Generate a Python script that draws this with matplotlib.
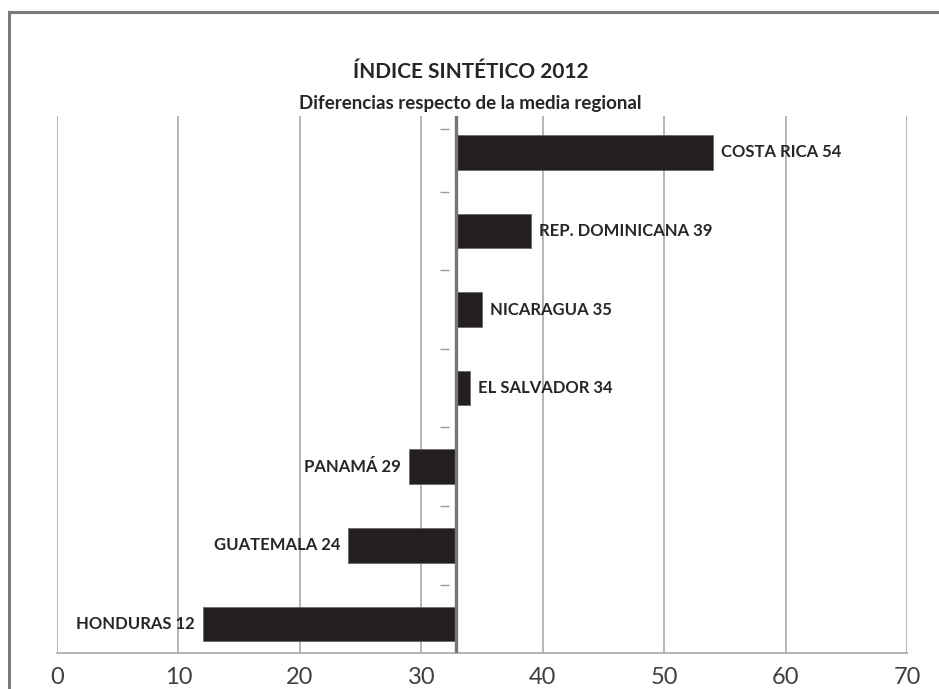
import numpy as np
import matplotlib.pyplot as plt
from matplotlib.lines import Line2D

# Índice sintético 2012, diferencias respecto de la media regional
paises = ["COSTA RICA", "REP. DOMINICANA", "NICARAGUA", "EL SALVADOR",
          "PANAMÁ", "GUATEMALA", "HONDURAS"]
valores = [54, 39, 35, 34, 29, 24, 12]
media = 32.85
ticks_x = [0, 10, 20, 30, 40, 50, 60, 70]

plt.rcParams['font.family'] = ['Lato', 'DejaVu Sans']

W, H = 939, 689
fig = plt.figure(figsize=(W / 100, H / 100), dpi=100)
ax = fig.add_axes([57 / W, (H - 653) / H, (907 - 57) / W, (653 - 116) / H])

y = np.arange(len(paises))
v = np.array(valores, dtype=float)
lefts = np.minimum(v, media)
widths = np.abs(v - media)
ax.barh(y, widths, left=lefts, height=0.44, color="#231f20",
        edgecolor="#6a6a6a", linewidth=0.6, zorder=2)

# linea de la media regional y marcas entre categorias
ax.axvline(media, color="#767676", lw=2.4, zorder=3)
y_marcas = [-0.3] + [i + 0.5 for i in range(len(paises) - 1)]
ax.hlines(y_marcas, 31.55, 32.3, color="#9a9a9a", lw=1.0, zorder=3)

for yi, nombre, val in zip(y, paises, valores):
    txt = "{} {}".format(nombre, val)
    if val >= media:
        ax.annotate(txt, (val, yi), xytext=(6, 0), textcoords="offset points",
                    ha="left", va="center", fontsize=12, fontweight="bold",
                    color="#262626")
    else:
        ax.annotate(txt, (val, yi), xytext=(-6, 0), textcoords="offset points",
                    ha="right", va="center", fontsize=12, fontweight="bold",
                    color="#262626")

ax.set_xlim(0, 70)
ax.set_ylim(6.37, -0.464)
ax.set_xticks(ticks_x)
ax.set_yticks([])
ax.xaxis.grid(True, color="#a8a8a8", lw=1.2)
ax.set_axisbelow(True)
for s in ["top", "left", "right"]:
    ax.spines[s].set_visible(False)
ax.spines["bottom"].set_color("#a8a8a8")
ax.spines["bottom"].set_linewidth(1.2)
ax.tick_params(axis="x", length=0, pad=10, labelsize=17, labelcolor="#404040")

fig.text(471 / W, 1 - 72 / H, "ÍNDICE SINTÉTICO 2012", ha="center", va="center",
         fontsize=15, fontweight="bold", color="#262626")
fig.text(470 / W, 1 - 103 / H, "Diferencias respecto de la media regional",
         ha="center", va="center", fontsize=13.5, fontweight="bold", color="#262626")

# marco del grafico (izquierda y arriba)
fig.add_artist(Line2D([9 / W, 9 / W], [0, 1 - 12 / H], transform=fig.transFigure,
                      color="#7a7a7a", lw=2.2))
fig.add_artist(Line2D([9 / W, 1], [1 - 12 / H, 1 - 12 / H], transform=fig.transFigure,
                      color="#7a7a7a", lw=2.2))

fig.savefig("out.png", dpi=100)
